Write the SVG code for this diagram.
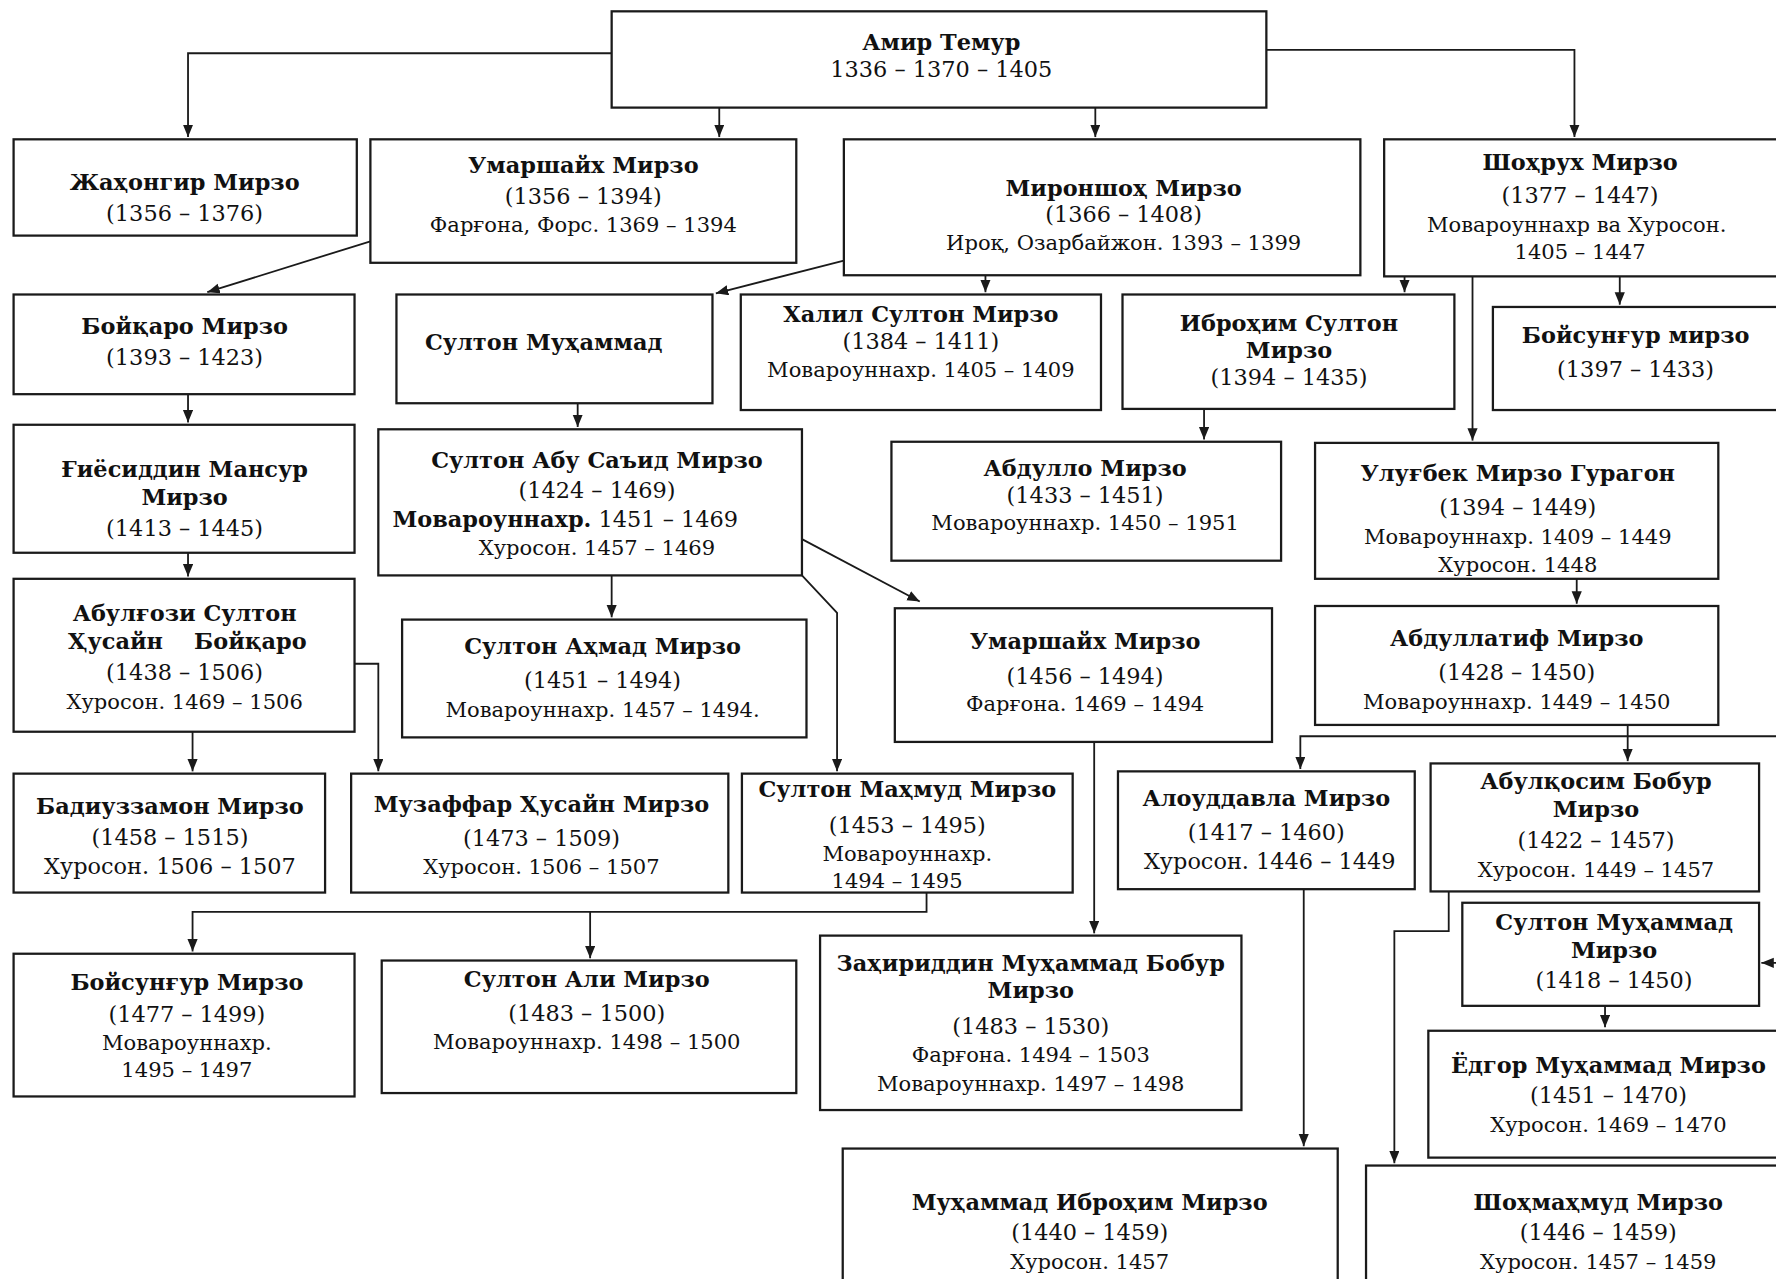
<svg xmlns="http://www.w3.org/2000/svg" width="1776" height="1279" viewBox="0 0 1776 1279">
<style>
.box{fill:#fff;stroke:#1a1a1a;stroke-width:2}
.ln{fill:none;stroke:#1a1a1a;stroke-width:1.6}
text{font-family:"DejaVu Serif","Liberation Serif",serif;fill:#111;text-anchor:middle}
.n{font-size:19.8px;font-weight:bold}
.d{font-size:19.8px}
.s{font-size:18.6px}
</style>
<defs>
<marker id="ar" markerUnits="userSpaceOnUse" markerWidth="11" markerHeight="10" refX="11" refY="4.5" orient="auto">
<path d="M0,0 L11,4.5 L0,9 z" fill="#1a1a1a"/>
</marker>
</defs>
<rect width="1776" height="1279" fill="#fff"/>
<g transform="scale(1.1327)">
<g id="connectors">
<path class="ln" d="M540,47 H166 V121" marker-end="url(#ar)"/>
<path class="ln" d="M635,95 V121" marker-end="url(#ar)"/>
<path class="ln" d="M967,95 V121" marker-end="url(#ar)"/>
<path class="ln" d="M1118,44 H1390 V121" marker-end="url(#ar)"/>
<path class="ln" d="M327,213 L183,258" marker-end="url(#ar)"/>
<path class="ln" d="M745,230 L632,259" marker-end="url(#ar)"/>
<path class="ln" d="M870,243 V258" marker-end="url(#ar)"/>
<path class="ln" d="M1240,244 V258" marker-end="url(#ar)"/>
<path class="ln" d="M1300,244 V389" marker-end="url(#ar)"/>
<path class="ln" d="M1430,244 V269" marker-end="url(#ar)"/>
<path class="ln" d="M166,348 V373" marker-end="url(#ar)"/>
<path class="ln" d="M510,356 V377" marker-end="url(#ar)"/>
<path class="ln" d="M1063,361 V388" marker-end="url(#ar)"/>
<path class="ln" d="M166,488 V509" marker-end="url(#ar)"/>
<path class="ln" d="M540,508 V545" marker-end="url(#ar)"/>
<path class="ln" d="M708,476 L812,531" marker-end="url(#ar)"/>
<path class="ln" d="M708,508 L739,541 V681" marker-end="url(#ar)"/>
<path class="ln" d="M1392,511 V533" marker-end="url(#ar)"/>
<path class="ln" d="M170,646 V681" marker-end="url(#ar)"/>
<path class="ln" d="M313,586 H334 V681" marker-end="url(#ar)"/>
<path class="ln" d="M1574,650 H1148 V679" marker-end="url(#ar)"/>
<path class="ln" d="M1437,640 V672" marker-end="url(#ar)"/>
<path class="ln" d="M1574,650 V850 H1555" marker-end="url(#ar)"/>
<path class="ln" d="M966,655 V824" marker-end="url(#ar)"/>
<path class="ln" d="M818,788 V805 H170 V840" marker-end="url(#ar)"/>
<path class="ln" d="M521,805 V846" marker-end="url(#ar)"/>
<path class="ln" d="M1151,785 V1012" marker-end="url(#ar)"/>
<path class="ln" d="M1279,787 V822 H1231 V1027" marker-end="url(#ar)"/>
<path class="ln" d="M1417,888 V907" marker-end="url(#ar)"/>
</g>
<g id="amir-temur"><rect class="box" x="540" y="10" width="578" height="85"/>
<text class="n" x="831" y="44">Амир Темур</text><text class="d" x="831" y="68">1336 – 1370 – 1405</text></g>
<g id="jahongir"><rect class="box" x="12" y="123" width="303" height="85"/>
<text class="n" x="163" y="168">Жаҳонгир Мирзо</text><text class="d" x="163" y="195">(1356 – 1376)</text></g>
<g id="umarshayx1"><rect class="box" x="327" y="123" width="376" height="109"/>
<text class="n" x="515" y="153">Умаршайх Мирзо</text><text class="d" x="515" y="180">(1356 – 1394)</text><text class="s" x="515" y="205">Фарғона, Форс. 1369 – 1394</text></g>
<g id="mironshoh"><rect class="box" x="745" y="123" width="456" height="120"/>
<text class="n" x="992" y="173">Мироншоҳ Мирзо</text><text class="d" x="992" y="196">(1366 – 1408)</text><text class="s" x="992" y="221">Ироқ, Озарбайжон. 1393 – 1399</text></g>
<g id="shohrux"><rect class="box" x="1222" y="123" width="360" height="121"/>
<text class="n" x="1395" y="150">Шоҳрух Мирзо</text><text class="d" x="1395" y="179">(1377 – 1447)</text><text class="s" x="1392" y="205">Мовароуннахр ва Хуросон.</text><text class="s" x="1395" y="229">1405 – 1447</text></g>
<g id="boyqaro"><rect class="box" x="12" y="260" width="301" height="88"/>
<text class="n" x="163" y="295">Бойқаро Мирзо</text><text class="d" x="163" y="322">(1393 – 1423)</text></g>
<g id="sulton-muhammad"><rect class="box" x="350" y="260" width="279" height="96"/>
<text class="n" x="480" y="309">Султон Муҳаммад</text></g>
<g id="xalil"><rect class="box" x="654" y="260" width="318" height="102"/>
<text class="n" x="813" y="284">Халил Султон Мирзо</text><text class="d" x="813" y="308">(1384 – 1411)</text><text class="s" x="813" y="333">Мовароуннахр. 1405 – 1409</text></g>
<g id="ibrohim"><rect class="box" x="991" y="260" width="293" height="101"/>
<text class="n" x="1138" y="292">Иброҳим Султон</text><text class="n" x="1138" y="316">Мирзо</text><text class="d" x="1138" y="340">(1394 – 1435)</text></g>
<g id="boysungur1"><rect class="box" x="1318" y="271" width="264" height="91"/>
<text class="n" x="1444" y="303">Бойсунғур мирзо</text><text class="d" x="1444" y="333">(1397 – 1433)</text></g>
<g id="giyosiddin"><rect class="box" x="12" y="375" width="301" height="113"/>
<text class="n" x="163" y="421">Ғиёсиддин Мансур</text><text class="n" x="163" y="446">Мирзо</text><text class="d" x="163" y="473">(1413 – 1445)</text></g>
<g id="abu-said"><rect class="box" x="334" y="379" width="374" height="129"/>
<text class="n" x="527" y="413">Султон Абу Саъид Мирзо</text><text class="d" x="527" y="440">(1424 – 1469)</text><text class="d" x="499" y="465"><tspan font-weight="bold">Мовароуннахр.</tspan> 1451 – 1469</text><text class="s" x="527" y="490">Хуросон. 1457 – 1469</text></g>
<g id="abdullo"><rect class="box" x="787" y="390" width="344" height="105"/>
<text class="n" x="958" y="420">Абдулло Мирзо</text><text class="d" x="958" y="444">(1433 – 1451)</text><text class="s" x="958" y="468">Мовароуннахр. 1450 – 1951</text></g>
<g id="ulugbek"><rect class="box" x="1161" y="391" width="356" height="120"/>
<text class="n" x="1340" y="425">Улуғбек Мирзо Гурагон</text><text class="d" x="1340" y="455">(1394 – 1449)</text><text class="s" x="1340" y="480">Мовароуннахр. 1409 – 1449</text><text class="s" x="1340" y="505">Хуросон. 1448</text></g>
<g id="husayn-boyqaro"><rect class="box" x="12" y="511" width="301" height="135"/>
<text class="n" x="163" y="548">Абулғози Султон</text><text class="n" y="573"><tspan x="102">Ҳусайн</tspan><tspan x="221">Бойқаро</tspan></text><text class="d" x="163" y="600">(1438 – 1506)</text><text class="s" x="163" y="626">Хуросон. 1469 – 1506</text></g>
<g id="ahmad"><rect class="box" x="355" y="547" width="357" height="104"/>
<text class="n" x="532" y="577">Султон Аҳмад Мирзо</text><text class="d" x="532" y="607">(1451 – 1494)</text><text class="s" x="532" y="633">Мовароуннахр. 1457 – 1494.</text></g>
<g id="umarshayx2"><rect class="box" x="790" y="537" width="333" height="118"/>
<text class="n" x="958" y="573">Умаршайх Мирзо</text><text class="d" x="958" y="604">(1456 – 1494)</text><text class="s" x="958" y="628">Фарғона. 1469 – 1494</text></g>
<g id="abdullatif"><rect class="box" x="1161" y="535" width="356" height="105"/>
<text class="n" x="1339" y="570">Абдуллатиф Мирзо</text><text class="d" x="1339" y="600">(1428 – 1450)</text><text class="s" x="1339" y="626">Мовароуннахр. 1449 – 1450</text></g>
<g id="badiuzzamon"><rect class="box" x="12" y="683" width="275" height="105"/>
<text class="n" x="150" y="719">Бадиуззамон Мирзо</text><text class="d" x="150" y="746">(1458 – 1515)</text><text class="d" x="150" y="772">Хуросон. 1506 – 1507</text></g>
<g id="muzaffar"><rect class="box" x="310" y="683" width="333" height="105"/>
<text class="n" x="478" y="717">Музаффар Ҳусайн Мирзо</text><text class="d" x="478" y="747">(1473 – 1509)</text><text class="s" x="478" y="772">Хуросон. 1506 – 1507</text></g>
<g id="mahmud"><rect class="box" x="655" y="683" width="292" height="105"/>
<text class="n" x="801" y="704">Султон Маҳмуд Мирзо</text><text class="d" x="801" y="735">(1453 – 1495)</text><text class="s" x="801" y="760">Мовароуннахр.</text><text class="s" x="792" y="784">1494 – 1495</text></g>
<g id="aloudavla"><rect class="box" x="987" y="681" width="262" height="104"/>
<text class="n" x="1118" y="712">Алоуддавла Мирзо</text><text class="d" x="1118" y="742">(1417 – 1460)</text><text class="d" x="1121" y="767">Хуросон. 1446 – 1449</text></g>
<g id="abulqosim"><rect class="box" x="1263" y="674" width="290" height="113"/>
<text class="n" x="1409" y="697">Абулқосим Бобур</text><text class="n" x="1409" y="721">Мирзо</text><text class="d" x="1409" y="749">(1422 – 1457)</text><text class="s" x="1409" y="774">Хуросон. 1449 – 1457</text></g>
<g id="sulton-muhammad-mirzo"><rect class="box" x="1291" y="797" width="262" height="91"/>
<text class="n" x="1425" y="821">Султон Муҳаммад</text><text class="n" x="1425" y="846">Мирзо</text><text class="d" x="1425" y="872">(1418 – 1450)</text></g>
<g id="boysungur2"><rect class="box" x="12" y="842" width="301" height="126"/>
<text class="n" x="165" y="874">Бойсунғур Мирзо</text><text class="d" x="165" y="902">(1477 – 1499)</text><text class="s" x="165" y="927">Мовароуннахр.</text><text class="s" x="165" y="951">1495 – 1497</text></g>
<g id="sulton-ali"><rect class="box" x="337" y="848" width="366" height="117"/>
<text class="n" x="518" y="871">Султон Али Мирзо</text><text class="d" x="518" y="901">(1483 – 1500)</text><text class="s" x="518" y="926">Мовароуннахр. 1498 – 1500</text></g>
<g id="bobur"><rect class="box" x="724" y="826" width="372" height="154"/>
<text class="n" x="910" y="857">Заҳириддин Муҳаммад Бобур</text><text class="n" x="910" y="881">Мирзо</text><text class="d" x="910" y="913">(1483 – 1530)</text><text class="s" x="910" y="938">Фарғона. 1494 – 1503</text><text class="s" x="910" y="963">Мовароуннахр. 1497 – 1498</text></g>
<g id="yodgor"><rect class="box" x="1261" y="910" width="321" height="112"/>
<text class="n" x="1420" y="947">Ёдгор Муҳаммад Мирзо</text><text class="d" x="1420" y="974">(1451 – 1470)</text><text class="s" x="1420" y="999">Хуросон. 1469 – 1470</text></g>
<g id="muhammad-ibrohim"><rect class="box" x="744" y="1014" width="437" height="130"/>
<text class="n" x="962" y="1068">Муҳаммад Иброҳим Мирзо</text><text class="d" x="962" y="1095">(1440 – 1459)</text><text class="s" x="962" y="1120">Хуросон. 1457</text></g>
<g id="shohmahmud"><rect class="box" x="1206" y="1029" width="376" height="115"/>
<text class="n" x="1411" y="1068">Шоҳмаҳмуд Мирзо</text><text class="d" x="1411" y="1095">(1446 – 1459)</text><text class="s" x="1411" y="1120">Хуросон. 1457 – 1459</text></g>
</g>
</svg>
